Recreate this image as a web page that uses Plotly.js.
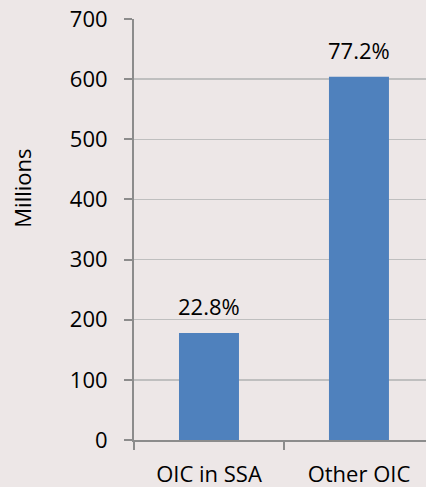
<!DOCTYPE html>
<html>
<head>
<meta charset="utf-8">
<script src="https://cdn.plot.ly/plotly-3.0.1.min.js"></script>
<style>html,body{margin:0;padding:0;background:#ede7e7;}#chart{width:426px;height:487px;}</style>
</head>
<body>
<div id="chart"></div>
<script>
const categories = ["OIC in SSA", "Other OIC"];
const values = [178, 604];
const shareLabels = ["22.8%", "77.2%"];
const yTicks = [0, 100, 200, 300, 400, 500, 600, 700];

const font = {family: "Open Sans, Liberation Sans, sans-serif", size: 22, color: "#000000"};

const trace = {
  type: "bar",
  x: categories,
  y: values,
  width: 0.4,
  marker: {color: "#4f81bd"},
  hoverinfo: "none"
};

const annotations = categories.map((c, i) => ({
  x: c, y: values[i], xref: "x", yref: "y",
  text: shareLabels[i], showarrow: false,
  yanchor: "bottom", yshift: 10, font: font
}));
annotations.push({
  xref: "paper", yref: "paper",
  x: -0.384, y: 0.599,
  xanchor: "center", yanchor: "middle",
  text: "Millions", textangle: -90, showarrow: false, font: font
});

const layout = {
  width: 426, height: 487,
  margin: {l: 134, r: 0, t: 19, b: 47},
  paper_bgcolor: "#ede7e7",
  plot_bgcolor: "#ede7e7",
  font: font,
  showlegend: false,
  xaxis: {
    type: "category",
    range: [-0.5, 1.447],
    tickson: "boundaries",
    ticks: "outside", ticklen: 8, tickwidth: 2, tickcolor: "#8c8c8c",
    showline: true, linecolor: "#8c8c8c", linewidth: 2,
    showgrid: false, zeroline: false,
    ticklabelstandoff: 14,
    tickfont: font
  },
  yaxis: {
    range: [0, 700],
    tickvals: yTicks,
    ticks: "outside", ticklen: 8, tickwidth: 2, tickcolor: "#8c8c8c",
    showline: true, linecolor: "#8c8c8c", linewidth: 2,
    showgrid: true, gridcolor: "#bfbfbf", gridwidth: 1.5,
    zeroline: false,
    ticklabelstandoff: 12,
    tickfont: font
  },
  annotations: annotations
};

Plotly.newPlot("chart", [trace], layout, {displayModeBar: false, staticPlot: true});
</script>
</body>
</html>
